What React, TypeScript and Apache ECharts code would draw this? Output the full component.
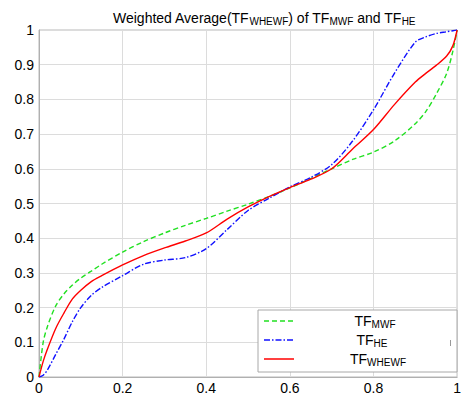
import React, { useEffect, useRef } from "react";
import * as echarts from "echarts";

const xs = [0, 0.01, 0.02, 0.04, 0.06, 0.08, 0.1, 0.125, 0.15, 0.2, 0.25, 0.3, 0.35, 0.4, 0.45, 0.5, 0.55, 0.6, 0.65, 0.7, 0.75, 0.8, 0.85, 0.9, 0.925, 0.95, 0.975, 0.99, 1];
const mwf = [0, 0.1, 0.145, 0.205, 0.24, 0.265, 0.285, 0.305, 0.325, 0.36, 0.39, 0.415, 0.437, 0.457, 0.478, 0.498, 0.52, 0.545, 0.572, 0.6, 0.627, 0.648, 0.68, 0.73, 0.765, 0.815, 0.875, 0.94, 1];
const he = [0, 0.005, 0.02, 0.065, 0.11, 0.16, 0.2, 0.235, 0.258, 0.292, 0.325, 0.337, 0.344, 0.37, 0.425, 0.48, 0.515, 0.548, 0.575, 0.612, 0.68, 0.77, 0.875, 0.965, 0.98, 0.99, 0.995, 0.998, 1];
const whewf = [0, 0.045, 0.08, 0.14, 0.185, 0.225, 0.25, 0.275, 0.292, 0.323, 0.35, 0.372, 0.392, 0.415, 0.455, 0.49, 0.52, 0.546, 0.57, 0.6, 0.657, 0.713, 0.785, 0.85, 0.875, 0.898, 0.925, 0.955, 1];

const seriesNames = ["TF_MWF", "TF_HE", "TF_WHEWF"];
const legendLabels = ["TF{s|MWF}", "TF{s|HE}", "TF{s|WHEWF}"];
const titleText = "Weighted Average(TF{s|WHEWF}) of TF{s|MWF} and TF{s|HE}";

const FONT = "Liberation Sans, Arial, sans-serif";

const pairs = (ys: number[]) => xs.map((x, i) => [x, ys[i]]);

export default function App() {
  const ref = useRef<HTMLDivElement>(null);
  useEffect(() => {
    if (!ref.current) return;
    const chart = echarts.init(ref.current, null, { renderer: "svg" });
    const subRich = {
      s: { fontSize: 10, fontFamily: FONT, color: "#000", verticalAlign: "bottom", lineHeight: 10 },
    };
    const legendRich = {
      s: { fontSize: 10, fontFamily: FONT, color: "#000", verticalAlign: "bottom", lineHeight: 10 },
    };
    const legendY = [321, 340, 359];
    const legendTextX = [375, 372, 378];
    const colors = ["#22e022", "#1010ff", "#ff0000"];
    const dashes: any[] = [[5, 3], [6, 2, 1.5, 2], "solid"];
    chart.setOption({
      animation: false,
      backgroundColor: "#fff",
      title: {
        text: titleText,
        left: 108,
        top: 4,
        textStyle: {
          fontSize: 14,
          fontWeight: "normal",
          fontFamily: FONT,
          color: "#000",
          lineHeight: 17,
          rich: subRich,
        },
      },
      grid: { left: 39, right: 4, top: 30, bottom: 18, show: true, borderColor: "#b8b8b8", borderWidth: 1 },
      xAxis: {
        type: "value",
        min: 0,
        max: 1,
        interval: 0.2,
        axisLine: { show: true, lineStyle: { color: "#b0b0b0" } },
        axisTick: { show: false },
        axisLabel: { color: "#000", fontSize: 14, fontFamily: FONT, margin: 4 },
        splitLine: { show: true, lineStyle: { color: "#dcdcdc" } },
      },
      yAxis: {
        type: "value",
        min: 0,
        max: 1,
        interval: 0.1,
        axisLine: { show: true, lineStyle: { color: "#b0b0b0" } },
        axisTick: { show: false },
        axisLabel: { color: "#000", fontSize: 14, fontFamily: FONT, margin: 5 },
        splitLine: { show: true, lineStyle: { color: "#dcdcdc" } },
      },
      series: [mwf, he, whewf].map((ys, i) => ({
        name: seriesNames[i],
        type: "line",
        data: pairs(ys),
        showSymbol: false,
        smooth: 0.3,
        lineStyle: { color: colors[i], width: 1.4, type: dashes[i] },
        z: 2 + i,
      })),
      graphic: [
        {
          type: "rect",
          shape: { x: 258, y: 310, width: 199, height: 62 },
          style: { fill: "#fff", stroke: "#a8a8a8", lineWidth: 1 },
          z: 100,
        },
        ...legendY.map((y, i) => ({
          type: "line",
          shape: { x1: 264, y1: y, x2: 294, y2: y },
          style: { stroke: colors[i], lineWidth: 1.5, lineDash: dashes[i] === "solid" ? null : dashes[i] },
          z: 101,
        })),
        ...legendY.map((y, i) => ({
          type: "text",
          x: legendTextX[i],
          y: y,
          style: {
            text: legendLabels[i],
            fontSize: 14,
            fontFamily: FONT,
            fill: "#000",
            align: "center",
            verticalAlign: "middle",
            lineHeight: 16,
            rich: legendRich,
          },
          z: 101,
        })),
        {
          type: "line",
          shape: { x1: 450.5, y1: 340, x2: 450.5, y2: 346 },
          style: { stroke: "#999", lineWidth: 1 },
          z: 101,
        },
      ],
    });
    return () => chart.dispose();
  }, []);
  return <div ref={ref} style={{ position: "fixed", left: 0, top: 0, width: 464, height: 395 }} />;
}
